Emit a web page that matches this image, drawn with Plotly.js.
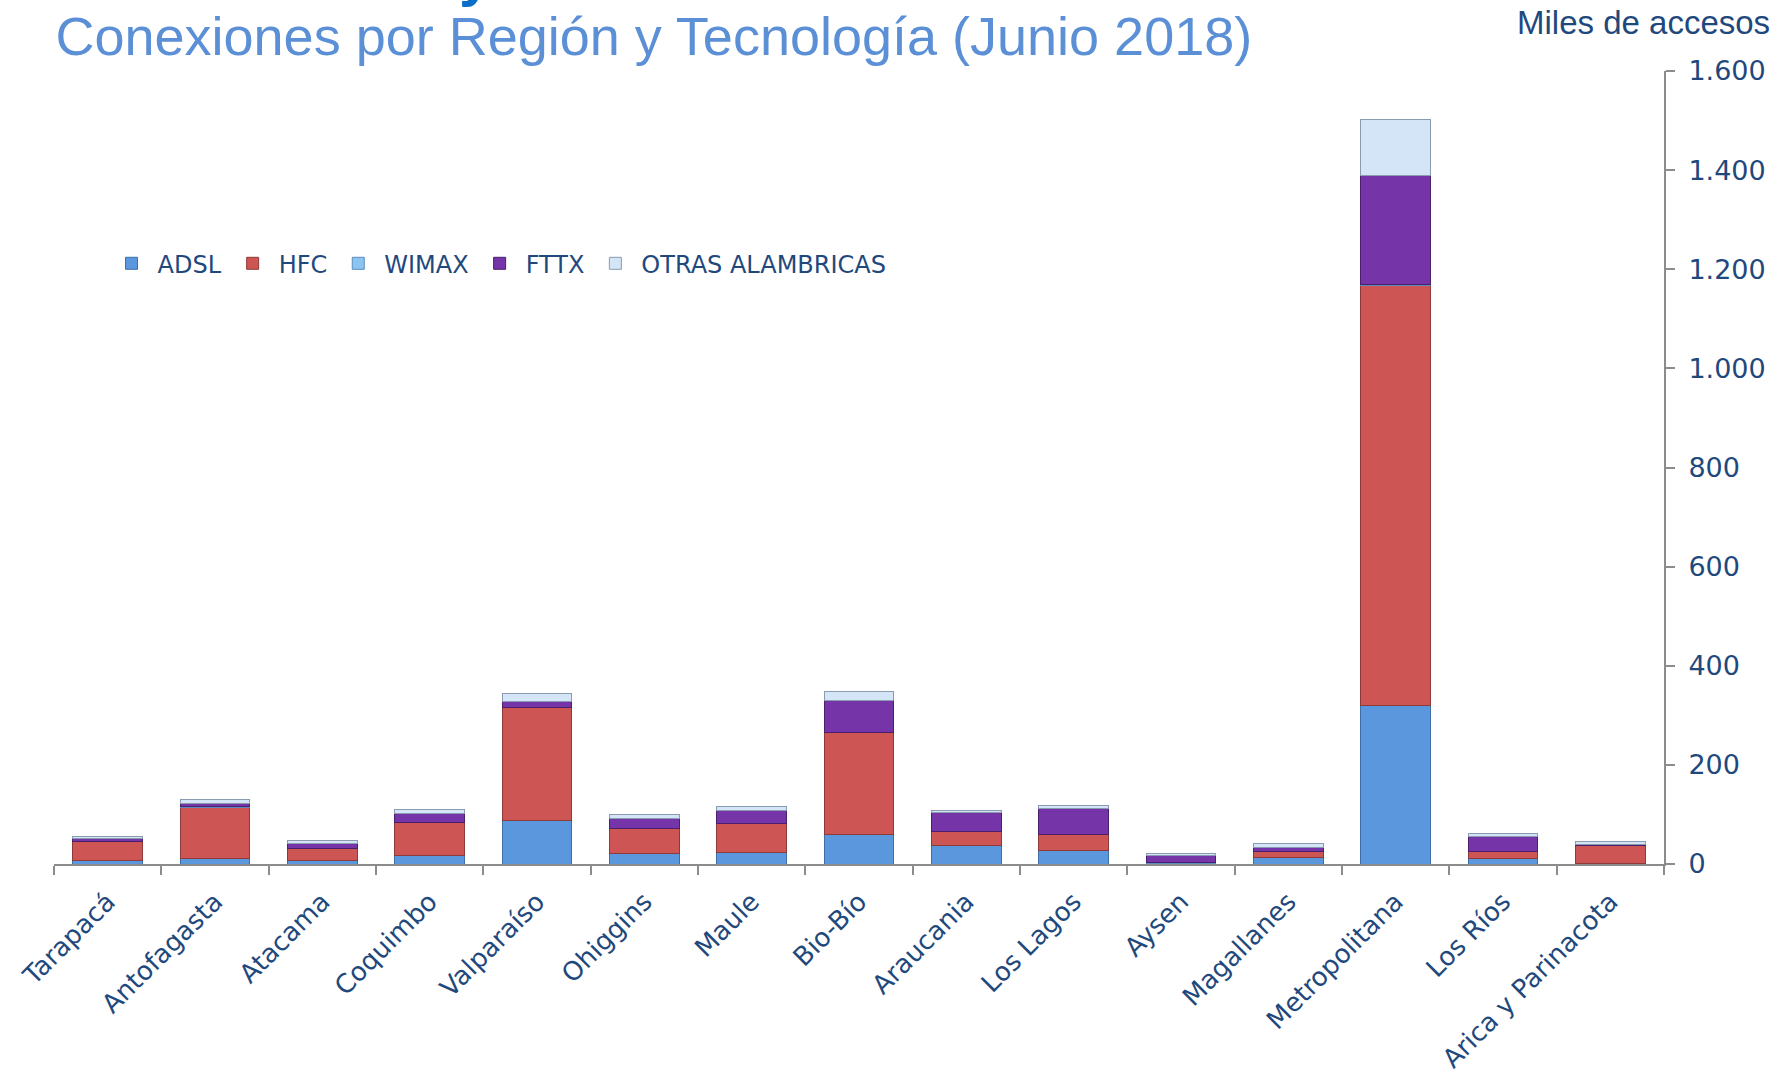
<!DOCTYPE html>
<html>
<head>
<meta charset="utf-8">
<script src="https://cdn.plot.ly/plotly-3.0.1.min.js"></script>
<style>
  html, body { margin: 0; padding: 0; background: #fff; }
  #chart { width: 1789px; height: 1073px; }
</style>
</head>
<body>
<div id="chart"></div>
<script>
// data, miles de accesos
var regiones = ['Tarapacá', 'Antofagasta', 'Atacama', 'Coquimbo', 'Valparaíso', 'Ohiggins', 'Maule',
  'Bio-Bío', 'Araucania', 'Los Lagos', 'Aysen', 'Magallanes', 'Metropolitana', 'Los Ríos', 'Arica y Parinacota'];
var adsl  = [8, 11, 7, 17, 87, 22, 24, 59, 38, 28, 1, 13, 319, 11, 1];
var hfc   = [38, 104, 24, 67, 228, 50, 58, 206, 28, 32, 1, 13, 849, 15, 36];
var wimax = [0.2, 0.3, 0.1, 0.3, 0.5, 0.2, 0.3, 0.5, 0.3, 0.3, 0.1, 0.1, 1.5, 0.1, 0.1];
var fttx  = [5, 7, 10, 17, 13, 20, 26, 65, 37, 52, 15, 7, 219, 30, 3];
var otras = [5, 8, 7, 8, 15, 7, 7, 17, 5, 5, 5, 8, 114, 5, 5];

var series = [
  { name: 'ADSL', values: adsl, color: '#5B97DD', edge: '#3E6FA8' },
  { name: 'HFC', values: hfc, color: '#CD5654', edge: '#8E3A39' },
  { name: 'WIMAX', values: wimax, color: '#8CC4F2', edge: '#5A8DBE' },
  { name: 'FTTX', values: fttx, color: '#7534A8', edge: '#4A1F6C' },
  { name: 'OTRAS ALAMBRICAS', values: otras, color: '#D5E5F8', edge: '#8A9BB0' }
];

var navy = '#1F497D';
var gris = '#8C8C8C';
var verdana = 'DejaVu Sans, Verdana, sans-serif';
var arial = 'Liberation Sans, Arial, sans-serif';

var traces = series.map(function(s) {
  return {
    type: 'bar',
    name: s.name,
    x: regiones,
    y: s.values,
    marker: { color: s.color, line: { color: s.edge, width: 1 } },
    hoverinfo: 'x+y+name'
  };
});

var layout = {
  width: 1789,
  height: 1073,
  margin: { l: 54, r: 125, t: 71, b: 209 },
  paper_bgcolor: '#fff',
  plot_bgcolor: '#fff',
  barmode: 'stack',
  bargap: 0.35,
  separators: ',.',
  showlegend: true,
  title: {
    text: 'Conexiones por Región y Tecnología (Junio 2018)',
    font: { family: arial, size: 54, color: '#5B8FD6' },
    xref: 'container', x: 0.031, xanchor: 'left',
    yref: 'container', y: 0.966, yanchor: 'middle'
  },
  legend: {
    orientation: 'h',
    x: 0.032, xanchor: 'left',
    y: 0.757, yanchor: 'middle',
    itemwidth: 42,
    font: { family: verdana, size: 24, color: navy },
    bgcolor: 'rgba(0,0,0,0)',
    traceorder: 'normal'
  },
  xaxis: {
    type: 'category',
    tickangle: -45,
    tickson: 'boundaries',
    ticks: 'outside',
    ticklen: 9,
    tickwidth: 2,
    tickcolor: gris,
    ticklabelstandoff: 10,
    showline: true,
    linecolor: gris,
    linewidth: 2,
    showgrid: false,
    automargin: false,
    tickfont: { family: verdana, size: 26, color: navy }
  },
  yaxis: {
    side: 'right',
    range: [0, 1600],
    dtick: 200,
    tickformat: ',d',
    ticks: 'outside',
    ticklen: 9,
    tickwidth: 2,
    tickcolor: gris,
    ticklabelstandoff: 8,
    showline: true,
    linecolor: gris,
    linewidth: 2,
    showgrid: false,
    zeroline: false,
    automargin: false,
    tickfont: { family: verdana, size: 27, color: navy }
  },
  annotations: [
    {
      text: 'Miles de accesos',
      xref: 'paper', yref: 'paper',
      x: 1.067, xanchor: 'right',
      y: 1.061, yanchor: 'middle',
      showarrow: false,
      font: { family: arial, size: 33, color: navy }
    },
    {
      // tail of a cut-off heading above the title, as in the source slide
      text: '<b>y</b>',
      xref: 'paper', yref: 'paper',
      x: 0.2503, xanchor: 'left',
      y: 1.0765, yanchor: 'bottom',
      showarrow: false,
      font: { family: arial, size: 60, color: '#0A6EC8' }
    }
  ]
};

Plotly.newPlot('chart', traces, layout, { displayModeBar: false, staticPlot: true });
</script>
</body>
</html>
